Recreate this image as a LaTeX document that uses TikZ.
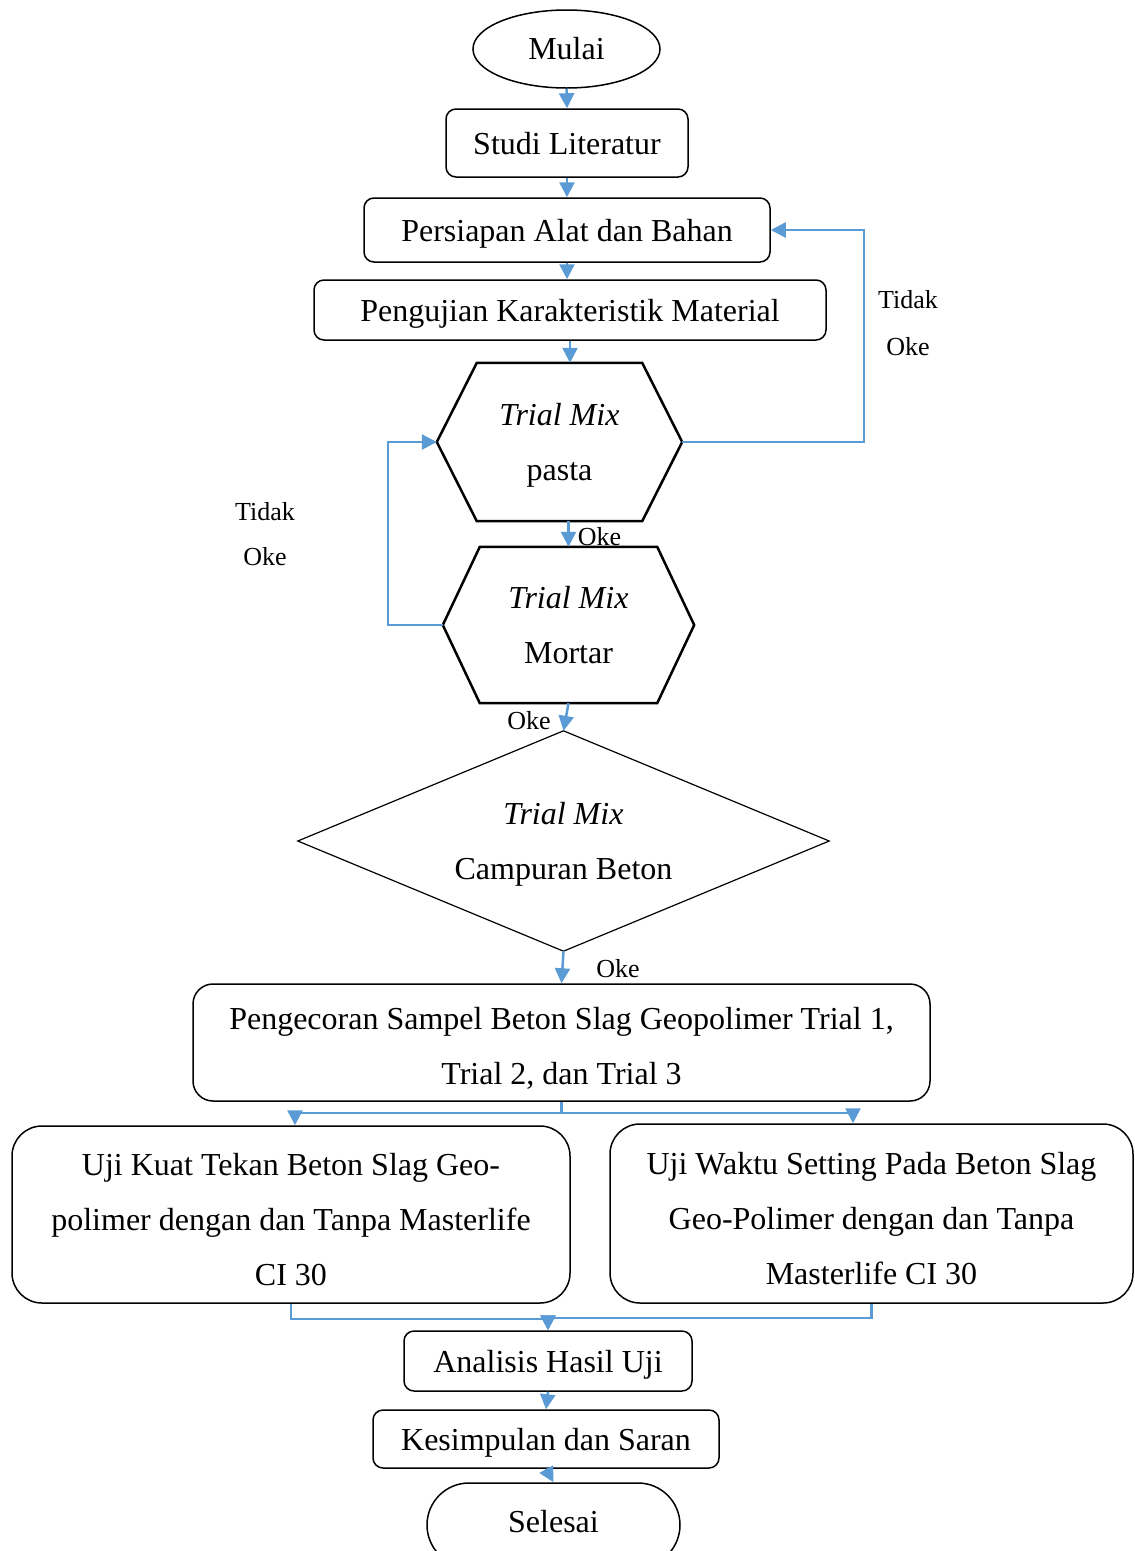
\documentclass[tikz,border=0pt]{standalone}
\usepackage{fontspec}
\setmainfont{Liberation Serif}
\usetikzlibrary{arrows.meta,shapes.geometric,calc}
\definecolor{arrblue}{RGB}{91,155,213}
\newcommand{\topstrut}{\rule{0pt}{33pt}}
\begin{document}
\begin{tikzpicture}[x=1pt,y=-1pt,
  every node/.style={inner sep=0pt, font=\fontsize{32}{55}\selectfont},
  box/.style={draw, line width=1.5pt, rounded corners=10pt, text height=29pt, text depth=7pt},
  multi/.style={align=center},
  bigbox/.style={draw, line width=1.5pt, rounded corners=30pt, multi},
  lbl/.style={font=\fontsize{26}{30}\selectfont, anchor=base},
  arr/.style={draw=arrblue, line width=2.5pt, -{Triangle[width=15pt,length=15pt]}},
  hexline/.style={line width=2.5pt, line join=miter},
  ]
\useasboundingbox (0,0) rectangle (1135,1551);

% nodes
\node[ellipse, draw, line width=1.5pt, minimum width=187pt, minimum height=78pt] (mulai) at (566.5,49) {Mulai};
\node[box, minimum width=242pt, minimum height=68pt] (studi) at (567,143) {Studi Literatur};
\node[box, minimum width=406pt, minimum height=64pt] (persiapan) at (567,230) {Persiapan Alat dan Bahan};
\node[box, minimum width=512pt, minimum height=60pt] (pengujian) at (570,310) {Pengujian Karakteristik Material};

\node[multi, text depth=1pt, minimum width=245pt, minimum height=158pt] (pasta) at (559.5,442) {\textit{Trial Mix}\\pasta};
\draw[hexline] (pasta.west) -- ([xshift=40pt]pasta.north west) -- ([xshift=-40pt]pasta.north east) -- (pasta.east) -- ([xshift=-40pt]pasta.south east) -- ([xshift=40pt]pasta.south west) -- cycle;

\node[multi, text depth=1pt, minimum width=251pt, minimum height=156pt] (mortar) at (568.5,625) {\textit{Trial Mix}\\Mortar};
\draw[hexline] (mortar.west) -- ([xshift=37pt]mortar.north west) -- ([xshift=-37pt]mortar.north east) -- (mortar.east) -- ([xshift=-37pt]mortar.south east) -- ([xshift=37pt]mortar.south west) -- cycle;

\node[multi, text depth=-1pt, minimum width=531pt, minimum height=220pt] (beton) at (563.5,841) {\textit{Trial Mix}\\Campuran Beton};
\draw[line width=1.2pt] (beton.north) -- (beton.east) -- (beton.south) -- (beton.west) -- cycle;

\node[bigbox, rounded corners=20pt, minimum width=737pt, minimum height=117pt] (pengecoran) at (561.5,1042.5) {\topstrut Pengecoran Sampel Beton Slag Geopolimer Trial 1,\\Trial 2, dan Trial 3};

\node[bigbox, minimum width=558pt, minimum height=177pt] (ujikuat) at (291,1214.5) {\topstrut Uji Kuat Tekan Beton Slag Geo-\\polimer dengan dan Tanpa Masterlife\\CI 30};
\node[bigbox, minimum width=523pt, minimum height=179pt] (ujiwaktu) at (871.5,1213.5) {\topstrut Uji Waktu Setting Pada Beton Slag\\Geo-Polimer dengan dan Tanpa\\Masterlife CI 30};

\node[box, minimum width=288pt, minimum height=60pt] (analisis) at (548,1361) {Analisis Hasil Uji};
\node[box, minimum width=346pt, minimum height=58pt] (kesimpulan) at (546,1439) {Kesimpulan dan Saran};
\node[draw, line width=1.5pt, rounded corners=42pt, minimum width=253pt, minimum height=84pt, text height=22pt, text depth=7pt] (selesai) at (553.5,1525) {Selesai};

% labels
\node[lbl] (t1) at (908,308) {Tidak};
\node[lbl] (o1) at (908,355) {Oke};
\node[lbl] (t2) at (265,520) {Tidak};
\node[lbl] (o2) at (265,565) {Oke};
\node[lbl] (o3) at (599.5,545) {Oke};
\node[lbl] (o4) at (529,729) {Oke};
\node[lbl] (o5) at (618,977) {Oke};

% connectors
\draw[arr] (mulai.south) -- (studi.north);
\draw[arr] (studi.south) -- (persiapan.north);
\draw[arr] (persiapan.south) -- (persiapan.south |- pengujian.north);
\draw[arr] (pengujian.south) -- (pengujian.south |- pasta.north);
\draw[arr] (pasta.south -| mortar.north) -- (mortar.north);
\draw[arr] (mortar.south) -- (beton.north);
\draw[arr] (beton.south) -- (pengecoran.north);
\draw[arr] (pengecoran.south) -- ++(0,11) -| ([xshift=4pt]ujikuat.north);
\draw[arr] (pengecoran.south) -- ++(0,11) -| ([xshift=-18.5pt]ujiwaktu.north);
\draw[arr] (ujikuat.south) -- ++(0,15) -| (analisis.north);
\draw[arr] (ujiwaktu.south) -- ++(0,14) -| (analisis.north);
\draw[arr] (analisis.south) -- (kesimpulan.north);
\draw[arr] (kesimpulan.south) -- (selesai.north);
\draw[arr] (pasta.east) -- ++(182,0) |- (persiapan.east);
\draw[arr] (mortar.west) -- ++(-55,0) |- (pasta.west);
\end{tikzpicture}
\end{document}
